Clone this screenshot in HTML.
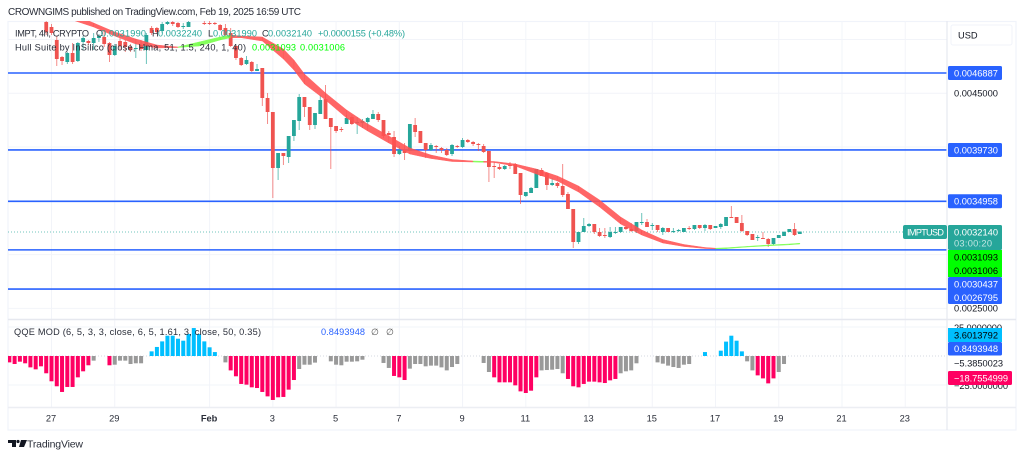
<!DOCTYPE html>
<html>
<head>
<meta charset="utf-8">
<title>IMPTUSD chart</title>
<style>
html,body{margin:0;padding:0;background:#fff;width:1024px;height:458px;overflow:hidden}
svg{display:block;font-family:"Liberation Sans",sans-serif}
text{white-space:pre}
</style>
</head>
<body>
<svg id="chart" xmlns="http://www.w3.org/2000/svg" width="1024" height="458" viewBox="0 0 1024 458">
  <defs>
    <clipPath id="main-clip"><rect x="8" y="21" width="939" height="298"/></clipPath>
    <clipPath id="qqe-clip"><rect x="8" y="320" width="939" height="87"/></clipPath>
  </defs>
  <rect x="0" y="0" width="1024" height="458" fill="#ffffff"/>
  <text x="8" y="15" font-size="10" fill="#2a2e39" textLength="293" lengthAdjust="spacing">CROWNGIMS published on TradingView.com, Feb 19, 2025 16:59 UTC</text>
  <rect x="8" y="21.5" width="1008" height="408.5" fill="none" stroke="#f0f3fa" stroke-width="1.2"/>
  <g id="grid"></g>
  <g id="levels" clip-path="url(#main-clip)"></g>
  <line x1="8" y1="232" x2="903" y2="232" stroke="#26a69a" stroke-opacity=".65" stroke-width="1" stroke-dasharray="1 2"/>
  <g id="candles" clip-path="url(#main-clip)"></g>
  <g id="hull" clip-path="url(#main-clip)"></g>
  <line x1="8" y1="356" x2="947" y2="356" stroke="#d4d8e2" stroke-width="1" stroke-dasharray="1 2"/>
  <g id="qqe" clip-path="url(#qqe-clip)"></g>

  <line x1="947" y1="21" x2="947" y2="430" stroke="#e6e8ef" stroke-width="1.2"/>
  <line x1="8" y1="319.5" x2="1016" y2="319.5" stroke="#e6e8ef" stroke-width="1.4"/>
  <line x1="8" y1="407.5" x2="1016" y2="407.5" stroke="#eceef3" stroke-width="1.4"/>

  <g font-size="9.2">
    <text x="15" y="36.5" fill="#2a2e39" textLength="74" lengthAdjust="spacing">IMPT, 4h, CRYPTO</text>
    <text x="96" y="36.5" fill="#2a2e39">O</text>
    <text x="101" y="36.5" fill="#26a69a" textLength="45" lengthAdjust="spacing">0.0031990</text>
    <text x="152" y="36.5" fill="#2a2e39">H</text>
    <text x="158" y="36.5" fill="#26a69a" textLength="44" lengthAdjust="spacing">0.0032240</text>
    <text x="208" y="36.5" fill="#2a2e39">L</text>
    <text x="213" y="36.5" fill="#26a69a" textLength="44" lengthAdjust="spacing">0.0031990</text>
    <text x="262" y="36.5" fill="#2a2e39">C</text>
    <text x="268" y="36.5" fill="#26a69a" textLength="44" lengthAdjust="spacing">0.0032140</text>
    <text x="318" y="36.5" fill="#26a69a" textLength="87" lengthAdjust="spacing">+0.0000155 (+0.48%)</text>
  </g>
  <g font-size="9.2">
    <text x="15" y="50.5" fill="#2a2e39" textLength="231" lengthAdjust="spacing">Hull Suite by InSilico (close, Hma, 51, 1.5, 240, 1, 40)</text>
    <text x="252" y="50.5" fill="#00ff00" textLength="44" lengthAdjust="spacing">0.0031093</text>
    <text x="300" y="50.5" fill="#00ff00" textLength="45" lengthAdjust="spacing">0.0031006</text>
  </g>
  <g font-size="9.2">
    <text x="14" y="335" fill="#2a2e39" textLength="247" lengthAdjust="spacing">QQE MOD (6, 5, 3, 3, close, 6, 5, 1.61, 3, close, 50, 0.35)</text>
    <text x="321" y="335" fill="#2962ff" textLength="44" lengthAdjust="spacing">0.8493948</text>
    <text x="371" y="335" fill="#555">∅</text>
    <text x="386" y="335" fill="#555">∅</text>
  </g>

  <g id="price-axis" font-size="9.3"></g>
  <g id="time-axis" font-size="9.3"></g>

  <g>
    <rect x="951" y="25" width="61" height="20" rx="2" fill="#fff" stroke="#f0f3fa"/>
    <text x="958" y="38.5" font-size="9.3" fill="#131722">USD</text>
  </g>

  <g font-size="9.3">
    <rect x="903" y="225" width="44" height="14" rx="2" fill="#26a69a"/>
    <text x="907" y="235.5" fill="#fff" textLength="37" lengthAdjust="spacing">IMPTUSD</text>
    <rect x="948" y="225" width="54" height="25" rx="1.5" fill="#26a69a"/>
    <text x="954" y="235.5" fill="#fff" textLength="44" lengthAdjust="spacing">0.0032140</text>
    <text x="954" y="246.5" fill="#bfe6e2" textLength="38" lengthAdjust="spacing">03:00:20</text>
    <rect x="948" y="250" width="54" height="27" fill="#00ff00"/>
    <text x="954" y="260.5" fill="#000" textLength="44" lengthAdjust="spacing">0.0031093</text>
    <text x="954" y="274" fill="#000" textLength="44" lengthAdjust="spacing">0.0031006</text>
    <rect x="948" y="277" width="54" height="27" rx="1.5" fill="#2962ff"/>
    <text x="954" y="287.5" fill="#fff" textLength="44" lengthAdjust="spacing">0.0030437</text>
    <text x="954" y="301" fill="#fff" textLength="44" lengthAdjust="spacing">0.0026795</text>
    <text x="954" y="331" fill="#131722" textLength="48" lengthAdjust="spacing">25.0000000</text>
    <rect x="948" y="328" width="54" height="14" fill="#00bfff"/>
    <text x="954" y="338.5" fill="#000" textLength="44" lengthAdjust="spacing">3.6013792</text>
    <rect x="948" y="342" width="54" height="13.5" rx="1.5" fill="#2962ff"/>
    <text x="954" y="352" fill="#fff" textLength="44" lengthAdjust="spacing">0.8493948</text>
    <text x="954" y="366.5" fill="#131722" textLength="49" lengthAdjust="spacing">−5.3850023</text>
    <text x="954" y="389" fill="#131722" textLength="54" lengthAdjust="spacing">−25.0000000</text>
    <rect x="948" y="371" width="64" height="14" rx="1.5" fill="#ff0062"/>
    <text x="954" y="381.5" fill="#fff" textLength="54" lengthAdjust="spacing">−18.7554999</text>
  </g>

  <g>
    <path d="M8 440h8v7h-4v-4H8z M21 440h6l-3 7h-5z" fill="#131722"/>
    <circle cx="18" cy="441.5" r="1.6" fill="#131722"/>
    <text x="27" y="447.5" font-size="10.5" fill="#2a2e39" textLength="56" lengthAdjust="spacing">TradingView</text>
  </g>
</svg>
<script>
// Price data, in units of 0.0000001 USD. The first entry belongs to bar index -1 (Jan 27 = bar 0).
const firstBar = -1;
const opens = [51630,51165,49956,48375,47910,48747,48003,49770,49863,49677,50142,50235,49677,48561,49863,49770,49305,49119,49491,49026,51072,51072,50793,51444,51630,51537,51165,51165,52095,52374,51537,51537,51537,51351,51072,50607,49398,48282,47724,47910,47073,47352,44562,43260,38052,39447,39075,41028,42423,44655,43725,42051,43074,44469,42702,41958,41679,42144,42795,42237,42237,42330,42609,43074,42516,41307,40935,39354,39726,39633,42051,41493,40377,39726,40098,39912,39726,39354,40098,40005,40656,40470,40284,40098,39633,38238,38145,37959,38331,38424,37587,35448,35727,36192,37866,37587,36471,36657,36378,35634,34239,31170,32100,32658,32844,32100,31821,31635,32007,32100,32565,32379,32193,32937,33030,32658,32751,32100,32472,32100,32193,32100,32472,32379,32751,32472,32751,32472,32565,32658,33495,33495,32937,32193,31914,31542,31542,31449,30984,31542,31728,32100,32379,31914];
const highs = [51816,51444,50328,48468,48840,49677,49770,50328,49956,50607,50514,50886,49770,49584,50142,49956,49584,49770,49956,50607,51258,51165,51630,51723,51723,51630,51537,51723,52467,52467,51816,51723,51630,51444,51444,51072,49491,48375,48468,48003,47724,47352,45027,43260,39447,39447,41028,42516,44934,44655,43725,43167,44841,45771,42702,41958,41865,42981,42981,42795,42609,42795,43446,43260,42516,41493,41493,40098,40377,42144,42702,41493,40377,40377,40191,40005,39912,40284,40191,40842,40749,40563,40377,40284,39633,38610,38424,38331,38610,38517,37587,35820,36285,37959,38052,37680,37122,36750,38424,35820,34239,32100,33402,32937,32844,32472,32472,32565,32565,32565,32658,32937,33030,33867,33309,32937,32751,32565,32472,32472,32379,32472,32658,32751,32751,32844,32751,32658,32937,33495,34518,33495,33681,32193,31914,31821,32100,31542,31542,31821,32193,32379,32937,32140];
const lows = [50421,50421,47538,47631,47724,47724,47910,49026,49491,49026,49770,49305,47910,48468,49026,48840,48840,48282,48933,47724,50421,50514,50607,51351,51258,51072,50979,51165,52002,52002,51351,51351,51351,50793,50328,49305,48096,47538,47631,46980,47073,43818,42144,35262,36936,38331,38517,40563,41586,42795,41586,41679,43074,42609,37959,41307,41400,42144,42051,41214,41772,41865,42609,42330,40842,40842,39075,39261,38796,39633,40935,40377,38982,39633,39447,39447,39168,39168,39912,39912,40377,40098,39633,39447,36750,37122,37866,37866,37959,37494,34704,35355,35727,36192,37308,36006,36378,36192,35355,34239,30612,30984,32100,32565,31914,31635,31542,31542,31914,32007,32286,32100,32007,32751,32565,32286,32100,31821,32100,32007,32100,32100,32286,32286,32379,32193,32286,32472,32379,32658,33402,32937,32100,31728,31356,31263,31449,30705,30891,31542,31728,32100,31728,31914];
const closes = [50700,50607,48189,48003,48747,47910,49677,50142,49677,50142,50328,49584,48561,49398,49398,49305,49026,49212,49119,50421,50607,50700,51444,51630,51444,51165,51258,51630,52374,52095,51444,51444,51444,50886,50421,49398,48282,47631,48096,47073,47259,44562,43260,38052,39447,39168,41028,42516,44655,43725,42051,43167,44376,42609,41865,41493,41586,42702,42144,42330,42423,42702,43074,42516,41028,41121,39354,39726,39447,42144,41400,40377,39726,40191,40005,39726,39261,40191,40005,40656,40470,40284,40191,39540,38145,38145,37959,38238,38238,37494,35541,35820,36192,37959,37308,36471,36657,36378,35541,34239,31170,32100,32658,32844,32100,31728,31728,32100,32100,32565,32379,32193,33030,33030,32565,32751,32286,32472,32100,32193,32286,32472,32379,32751,32472,32751,32379,32658,32844,33495,33402,32937,32193,31821,31356,31635,31449,30984,31542,31821,32100,32379,31821,32140];

// Hull Suite ribbon, read at the listed bars
const hullBars = [4,8,12,16,20,24,28,32,34,36,40,44,46,48,52,56,60,64,68,72,76,80,82,84,88,92,96,100,104,108,112,116,120,124,126,128,132,136,140,142];
const hullUpper = [52374,51537,50700,50049,49491,49305,49770,50235,50421,50328,50235,49119,48096,46794,45027,43446,42144,41028,39912,39261,38842,38703,38675,38656,38424,37959,37308,36378,35076,33495,32286,31402,30937,30658,30593,30630,30761,30891,30984,31058];
const hullLower = [51816,51165,50328,49584,49212,49258,49398,49956,50170,50170,49863,48189,47166,45864,44376,42702,41493,40377,39354,38936,38656,38610,38582,38563,38238,37494,36843,35820,34425,32844,31821,31077,30751,30565,30538,30556,30705,30816,30909,30984];
const hullTrend = "dddddd"+"uuu"+"ddddddddddddd"+"u"+"dddddddddddd"+"uuuuu";

// Horizontal levels and ticks
const levelValues = [46887,39730,34958,30437,26795];
const levelLabels = ["0.0046887","0.0039730","0.0034958"];
const priceTickValues = [50000,45000,40000,35000,30000,25000];
const priceTickLabels = ["","0.0045000","0.0040000","","","0.0025000"];
const qqeTickValues = [25,-25];

// Time axis
const timeTickBars = [0,12,30,42,54,66,78,90,102,114,126,138,150,162];
const timeTickLabels = ["27","29","Feb","3","5","7","9","11","13","15","17","19","21","23"];

// QQE MOD histogram; the first entry belongs to bar index -8
const qqeFirstBar = -8;
const qqeValues = [-5.5,-6.9,-4.9,-6.3,-9.8,-11.5,-8.9,-14.9,-21.8,-26.1,-31.0,-26.7,-26.7,-18.4,-13.2,-8.0,-4.0,null,null,-8.0,-7.5,-4.0,-4.0,-6.9,-6.3,-6.3,null,4.0,7.8,12.6,17.5,17.5,14.9,13.2,19.0,24.1,19.0,12.6,7.5,3.4,null,-5.5,-12.4,-17.5,-24.1,-24.7,-27.0,-27.6,-31.0,-34.8,-37.9,-35.6,-35.3,-29.0,-20.7,-11.2,-7.5,-7.5,-5.7,null,null,-4.6,-7.5,-8.0,-4.9,-4.9,-4.6,-3.2,null,null,null,-6.0,-10.3,-17.2,-18.4,-20.7,-10.9,-6.9,-6.9,-8.9,-8.3,-8.3,-9.8,-12.4,-9.5,-6.9,null,null,null,null,-6.0,-13.8,-18.4,-22.7,-22.7,-22.7,-25.3,-30.5,-31.9,-29.9,-18.4,-12.4,-12.1,-11.8,-11.2,-14.9,-19.8,-26.1,-27.0,-24.1,-22.1,-22.1,-22.7,-23.3,-21.0,-19.8,-14.9,-13.2,-12.4,-6.3,null,null,null,-5.5,-6.6,-8.3,-9.5,-10.3,-7.5,-6.9,null,null,3.4,null,null,4.6,12.4,17.5,13.2,4.0,-4.6,-12.4,-16.7,-19.3,-23.6,-19.3,-13.8,-6.9];
const qqeStates = "rrrrrrrrrrrrrrrr"+"g"+"--"+"r"+"gggggg"+"-"+"bbbbbbbbbbbbb"+"-"+"g"+"rrrrrrrrrrrrr"+"gggg"+"--"+"ggggggg"+"---"+"gg"+"rrr"+"gggggggggg"+"----"+"gg"+"rrrrrrrrr"+"ggggg"+"rrrrrrrrrr"+"gggg"+"---"+"ggggggg"+"--"+"b"+"--"+"bbbbb"+"gg"+"rrrr"+"gg";

const SVGNS = "http://www.w3.org/2000/svg";
const xOf = i => 51.5 + 5.27 * i;
const yOf = p => 73 + (46887 - p) / 93;
const qY = v => 356 - v * 1.16;

function mk(parent, tag, attrs, text) {
  const el = document.createElementNS(SVGNS, tag);
  for (const k in attrs) el.setAttribute(k, attrs[k]);
  if (text !== undefined) el.textContent = text;
  parent.appendChild(el);
  return el;
}

const gridG = document.getElementById("grid");
priceTickValues.forEach(p => {
  const el = mk(gridG, "line", {x1:8, x2:947, y1:yOf(p), y2:yOf(p), stroke:"#f2f4f9", "stroke-width":1});
  
  
});
qqeTickValues.forEach(v => {
  const el = mk(gridG, "line", {x1:8, x2:947, y1:qY(v), y2:qY(v), stroke:"#f2f4f9", "stroke-width":1});
  
  
});
timeTickBars.forEach(b => {
  const el = mk(gridG, "line", {x1:xOf(b), x2:xOf(b), y1:21, y2:407, stroke:"#f2f4f9", "stroke-width":1});
  
  
});

const levelsG = document.getElementById("levels");
levelValues.forEach(p => {
  const el = mk(levelsG, "line", {x1:8, x2:947, y1:yOf(p), y2:yOf(p), stroke:"#2962ff", "stroke-width":1.6});
  
  
});

const candlesG = document.getElementById("candles");
opens.forEach((o, k) => {
  const c = closes[k];
  const x = xOf(firstBar + k);
  const col = c >= o ? "#26a69a" : "#ef5350";
  const w = mk(candlesG, "line", {x1:x, x2:x, y1:yOf(highs[k]), y2:yOf(lows[k]), stroke:col, "stroke-width":0.9, "stroke-opacity":0.75});
  
  
  const top = yOf(Math.max(o, c));
  const h = Math.max(1, yOf(Math.min(o, c)) - top);
  const b = mk(candlesG, "rect", {x:x - 1.9, y:top, width:3.8, height:h, fill:col});
  
  
});

const hullG = document.getElementById("hull");
for (let k = 1; k < hullBars.length; k++) {
  const up = hullTrend[k] === "u";
  const col = up ? "#66ff33" : "#ff5252";
  const pts = [
    [xOf(hullBars[k-1]), yOf(hullUpper[k-1])],
    [xOf(hullBars[k]), yOf(hullUpper[k])],
    [xOf(hullBars[k]), yOf(hullLower[k])],
    [xOf(hullBars[k-1]), yOf(hullLower[k-1])]
  ].map(p => p.join(",")).join(" ");
  const seg = mk(hullG, "polygon", {points:pts, fill:col, stroke:col, "stroke-width":0.5, opacity:up ? 0.8 : 0.88});
  
  
}

const qqeG = document.getElementById("qqe");
const qqeColors = {r:"#ff0062", g:"#999999", b:"#00bfff"};
qqeValues.forEach((v, k) => {
  if (v === null) return;
  const x = xOf(qqeFirstBar + k);
  const y0 = qY(0), y1 = qY(v);
  const bar = mk(qqeG, "rect", {x:x - 2, y:Math.min(y0, y1), width:4, height:Math.abs(y1 - y0), fill:qqeColors[qqeStates[k]]});
  
  
});

const priceAxis = document.getElementById("price-axis");
priceTickValues.forEach((p, k) => {
  if (!priceTickLabels[k]) return;
  const t = mk(priceAxis, "text", {x:954, y:yOf(p) + 3.4, fill:"#131722"}, priceTickLabels[k]);
  
  
});
levelLabels.forEach((s, k) => {
  const cy = yOf(levelValues[k]);
  const r = mk(priceAxis, "rect", {x:948, y:cy - 7, width:54, height:14, rx:1.5, fill:"#2962ff"});
  
  
  const t = mk(priceAxis, "text", {x:954, y:cy + 3.4, fill:"#ffffff"}, s);
  
  
});

const timeAxis = document.getElementById("time-axis");
timeTickBars.forEach((b, k) => {
  const t = mk(timeAxis, "text", {x:xOf(b) - 0.5, y:421.5, fill:"#2a2e39", "text-anchor":"middle", "font-weight":timeTickLabels[k] === "Feb" ? "bold" : "normal"}, timeTickLabels[k]);
  
  
});
</script>
</body>
</html>
